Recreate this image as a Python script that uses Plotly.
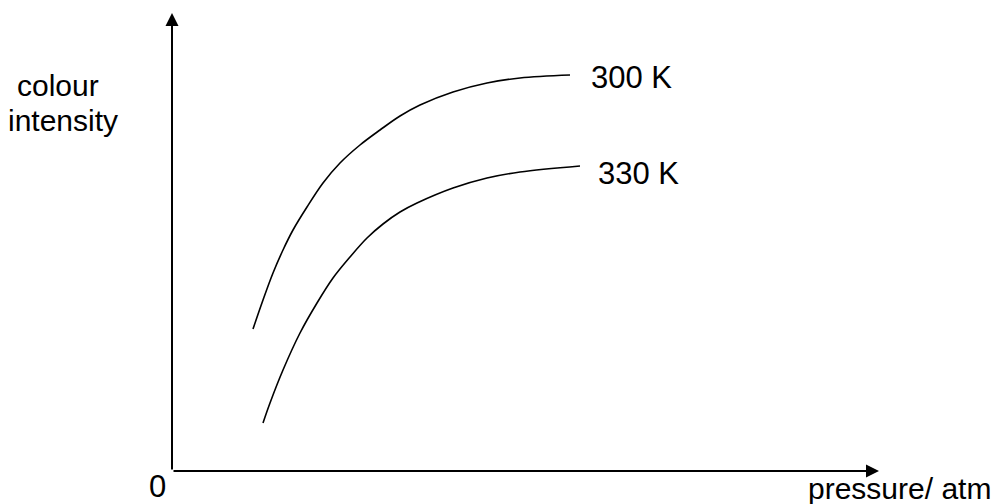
import plotly.graph_objects as go

# curve values (arbitrary units)
pressure_300 = [0.81, 0.91, 1.01, 1.11, 1.21, 1.35, 1.51, 1.68, 1.88, 2.08, 2.28, 2.48, 2.81, 3.15, 3.48, 3.98]
intensity_300 = [1.42, 1.71, 1.98, 2.21, 2.41, 2.64, 2.88, 3.08, 3.26, 3.41, 3.55, 3.66, 3.79, 3.88, 3.93, 3.96]

pressure_330 = [0.91, 0.98, 1.11, 1.28, 1.45, 1.61, 1.78, 1.95, 2.11, 2.28, 2.45, 2.81, 3.15, 3.48, 4.08]
intensity_330 = [0.48, 0.68, 1.01, 1.38, 1.68, 1.93, 2.14, 2.33, 2.47, 2.59, 2.68, 2.83, 2.93, 2.99, 3.05]

FONT = "Liberation Sans, Arial, sans-serif"
FS = 31

fig = go.Figure()

for xs, ys in [(pressure_300, intensity_300), (pressure_330, intensity_330)]:
    fig.add_trace(go.Scatter(
        x=xs, y=ys,
        mode="lines",
        line=dict(color="black", width=1.6, shape="spline", smoothing=1.0),
        hoverinfo="skip",
        showlegend=False,
    ))

# axes with arrowheads
fig.add_annotation(x=0, y=4.58, ax=0, ay=0, xref="x", yref="y", axref="x", ayref="y",
                   showarrow=True, arrowhead=2, arrowsize=1.3, arrowwidth=2, arrowcolor="black",
                   text="")
fig.add_annotation(x=7.07, y=0, ax=0, ay=0, xref="x", yref="y", axref="x", ayref="y",
                   showarrow=True, arrowhead=2, arrowsize=1.3, arrowwidth=2, arrowcolor="black",
                   text="")

labels = [
    ("colour", -1.14, 3.86, "center", 30),
    ("intensity", -1.09, 3.51, "center", 30),
    ("0", -0.15, -0.15, "center", FS),
    ("300 K", 4.18, 3.94, "left", FS),
    ("330 K", 4.25, 2.98, "left", FS),
]
for txt, x, y, anchor, size in labels:
    fig.add_annotation(x=x, y=y, xref="x", yref="y", text=txt, showarrow=False,
                       xanchor=anchor, yanchor="middle", borderpad=0,
                       font=dict(family=FONT, size=size, color="black"))

# x-axis title sits flush with the right edge of the page
fig.add_annotation(x=0.999, y=-0.17, xref="paper", yref="y", text="pressure/ atm",
                   showarrow=False, xanchor="right", yanchor="middle", borderpad=0,
                   font=dict(family=FONT, size=30, color="black"))

fig.update_layout(
    width=993, height=504,
    paper_bgcolor="white", plot_bgcolor="white",
    margin=dict(l=0, r=0, t=0, b=0),
    xaxis=dict(range=[-1.72, 8.21], visible=False, fixedrange=True),
    yaxis=dict(range=[-0.33, 4.71], visible=False, fixedrange=True),
)

# page body has an 8px default margin; drop it so the figure fills the window
fig.write_html("out.html", post_script="document.body.style.margin='0';",
               config={"displayModeBar": False})
